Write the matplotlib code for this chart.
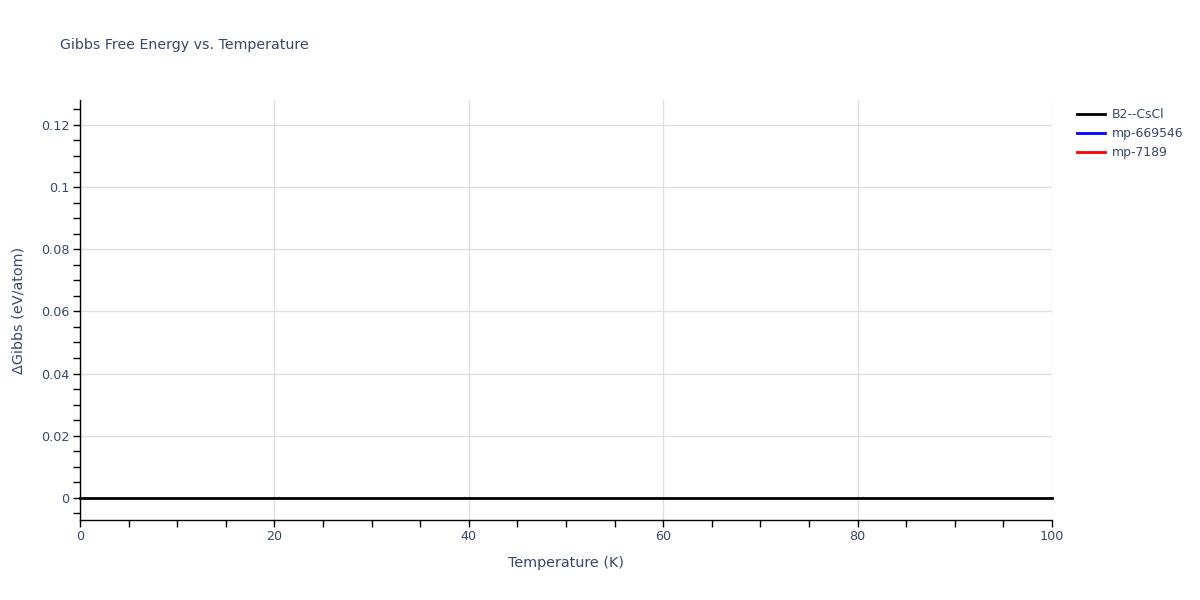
import matplotlib
matplotlib.use('Agg')
import matplotlib.pyplot as plt
from matplotlib.ticker import MultipleLocator
from matplotlib.lines import Line2D

# data
temps_b2 = [0, 10, 20, 30, 40, 50, 60, 70, 80, 90, 100]
gibbs_b2 = [0, 0, 0, 0, 0, 0, 0, 0, 0, 0, 0]
# the other two phases draw nothing inside the visible window
temps_669546, gibbs_669546 = [], []
temps_7189, gibbs_7189 = [], []

series = [
    ('B2--CsCl', temps_b2, gibbs_b2, 'black'),
    ('mp-669546', temps_669546, gibbs_669546, 'blue'),
    ('mp-7189', temps_7189, gibbs_7189, 'red'),
]

text_col = '#36476a'
plt.rcParams['font.family'] = ['DejaVu Sans']

fig = plt.figure(figsize=(12, 6), dpi=100)
ax = fig.add_axes([80 / 1200, 80 / 600, 972 / 1200, 420 / 600])

for name, t, g, col in series:
    ax.plot(t, g, color=col, linewidth=2, label=name, clip_on=False)

ax.set_xlim(0, 100)
ax.set_ylim(-0.0071, 0.128)
ax.xaxis.set_major_locator(MultipleLocator(20))
ax.xaxis.set_minor_locator(MultipleLocator(5))
ax.yaxis.set_major_locator(MultipleLocator(0.02))
ax.yaxis.set_minor_locator(MultipleLocator(0.005))
ax.yaxis.set_major_formatter(plt.FuncFormatter(lambda v, p: '0' if abs(v) < 1e-9 else f'{v:g}'))

ax.grid(True, which='major', color='#e0e0e0', linewidth=1)
ax.set_axisbelow(True)
for side in ['top', 'right']:
    ax.spines[side].set_visible(False)
for side in ['left', 'bottom']:
    ax.spines[side].set_color('black')
    ax.spines[side].set_linewidth(1)

ax.tick_params(which='both', direction='out', length=5, width=1, color='black',
               labelcolor=text_col, labelsize=9.2, pad=2.5)

ax.set_xlabel('Temperature (K)', color=text_col, fontsize=10.4, labelpad=9)
ax.set_ylabel('ΔGibbs (eV/atom)', color=text_col, fontsize=10.4, labelpad=11)

fig.text(60 / 1200, 1 - 45 / 600, 'Gibbs Free Energy vs. Temperature',
         color=text_col, fontsize=10.2, va='center', ha='left')

handles = [Line2D([0], [0], color=c, linewidth=2) for _, _, _, c in series]
leg = fig.legend(handles, [s[0] for s in series], loc='upper left',
                 bbox_to_anchor=(1077 / 1200, 1 - 108 / 600), frameon=False,
                 fontsize=8.9, handlelength=2.3, handletextpad=0.55,
                 labelspacing=0.5, borderaxespad=0, borderpad=0)
for t in leg.get_texts():
    t.set_color(text_col)

fig.savefig('out.png', dpi=100, facecolor='white')
